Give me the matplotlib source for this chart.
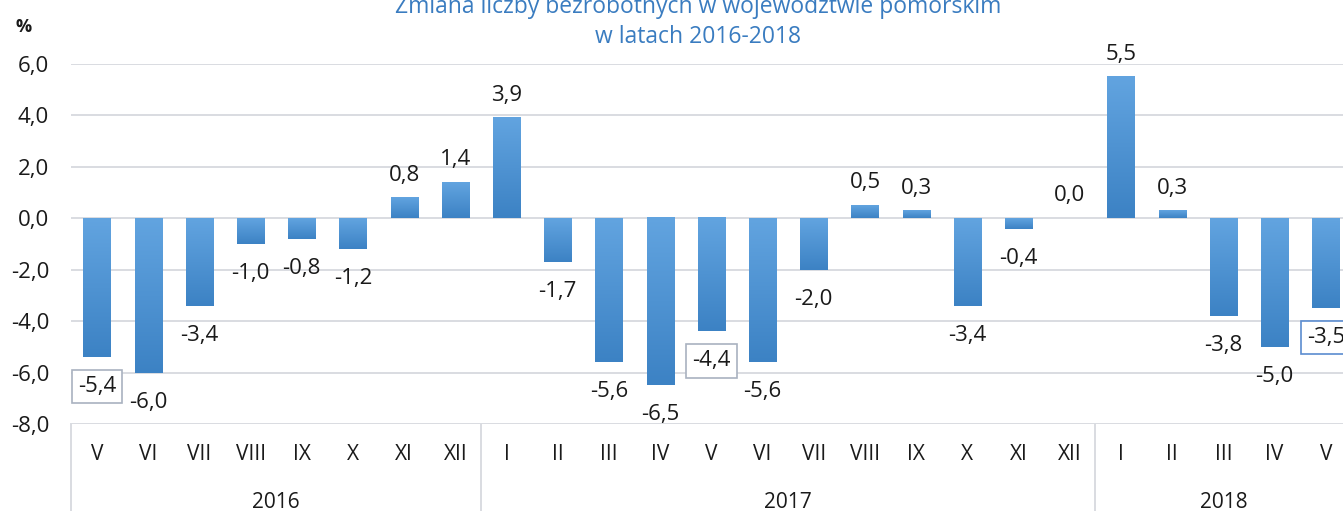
import numpy as np
import matplotlib
matplotlib.use("Agg")
import matplotlib.pyplot as plt
from matplotlib.colors import LinearSegmentedColormap
from matplotlib.ticker import FuncFormatter
import matplotlib.transforms as mtransforms

plt.rcParams['font.family'] = ['Open Sans', 'DejaVu Sans']

# dane
years = ["2016", "2017", "2018"]
months_2016 = ["V", "VI", "VII", "VIII", "IX", "X", "XI", "XII"]
months_2017 = ["I", "II", "III", "IV", "V", "VI", "VII", "VIII", "IX", "X", "XI", "XII"]
months_2018 = ["I", "II", "III", "IV", "V"]
values_2016 = [-5.4, -6.0, -3.4, -1.0, -0.8, -1.2, 0.8, 1.4]
values_2017 = [3.9, -1.7, -5.6, -6.5, -4.4, -5.6, -2.0, 0.5, 0.3, -3.4, -0.4, 0.0]
values_2018 = [5.5, 0.3, -3.8, -5.0, -3.5]
boxed = {0: "#A9B2C0", 12: "#A9B2C0", 24: "#5B8CD0"}  # etykiety w ramkach

months = months_2016 + months_2017 + months_2018
values = values_2016 + values_2017 + values_2018
groups = [len(months_2016), len(months_2017), len(months_2018)]
x = np.arange(len(values))

W, H = 1343, 511
fig = plt.figure(figsize=(W / 100, H / 100), dpi=100)
ax = fig.add_axes([71.4 / W, (H - 424) / H, 25 * 51.2 / W, (424 - 64) / H])

grid_c = "#D9DCE1"
bar_w = 0.535
cmap = LinearSegmentedColormap.from_list("grad", ["#3C82C4", "#62A4E0"])
grad = np.linspace(0, 1, 256).reshape(-1, 1)

for xi, v in zip(x, values):
    if v == 0:
        continue
    lo, hi = min(v, 0), max(v, 0)
    ax.imshow(grad, extent=[xi - bar_w / 2, xi + bar_w / 2, lo, hi], origin="lower",
              aspect="auto", cmap=cmap, zorder=3)

ax.set_xlim(-0.5, len(values) - 0.5)
ax.set_ylim(-8, 6)
ax.set_yticks(np.arange(-8, 7, 2))
ax.yaxis.set_major_formatter(FuncFormatter(lambda v, p: f"{v:.1f}".replace(".", ",")))
ax.tick_params(axis="y", length=0, pad=16, labelsize=16, colors="#1a1a1a")
ax.set_xticks([])
ax.grid(axis="y", color=grid_c, lw=1.4, zorder=0)
for s in ax.spines.values():
    s.set_visible(False)

# etykiety danych
for xi, v in zip(x, values):
    txt = f"{v:.1f}".replace(".", ",")
    ly = v + 0.66 if v >= 0 else v - 1.36
    bbox = None
    if xi in boxed:
        bbox = dict(boxstyle="square,pad=0.28", fc="white", ec=boxed[xi], lw=1.2)
    ax.text(xi, ly, txt, ha="center", va="baseline", fontsize=16, color="#1a1a1a",
            bbox=bbox, zorder=5, clip_on=False)

# os kategorii (miesiace i lata)
trans = mtransforms.blended_transform_factory(ax.transData, ax.transAxes)
for xi, m in zip(x, months):
    ax.annotate(m, xy=(xi, 0), xycoords=trans, xytext=(0, -36 * 0.72), textcoords="offset points",
                ha="center", va="baseline", fontsize=15, color="#1a1a1a", annotation_clip=False)
start = 0
for y, n in zip(years, groups):
    ax.annotate(y, xy=(start + (n - 1) / 2, 0), xycoords=trans, xytext=(0, -84 * 0.72),
                textcoords="offset points", ha="center", va="baseline", fontsize=15,
                color="#1a1a1a", annotation_clip=False)
    ax.plot([start - 0.5, start - 0.5], [0, -0.3], transform=trans, color=grid_c, lw=1.4,
            clip_on=False)
    start += n

fig.text(698 / W, 1 - 13 / H, "Zmiana liczby bezrobotnych w województwie pomorskim",
         ha="center", va="baseline", fontsize=16.5, color="#3A7CC0")
fig.text(698 / W, 1 - 43 / H, "w latach 2016-2018", ha="center", va="baseline",
         fontsize=16.5, color="#3A7CC0")
fig.text(15 / W, 1 - 32 / H, "%", ha="left", va="baseline", fontsize=13,
         fontweight="bold", color="#1a1a1a")

fig.savefig("out.png", dpi=100)
